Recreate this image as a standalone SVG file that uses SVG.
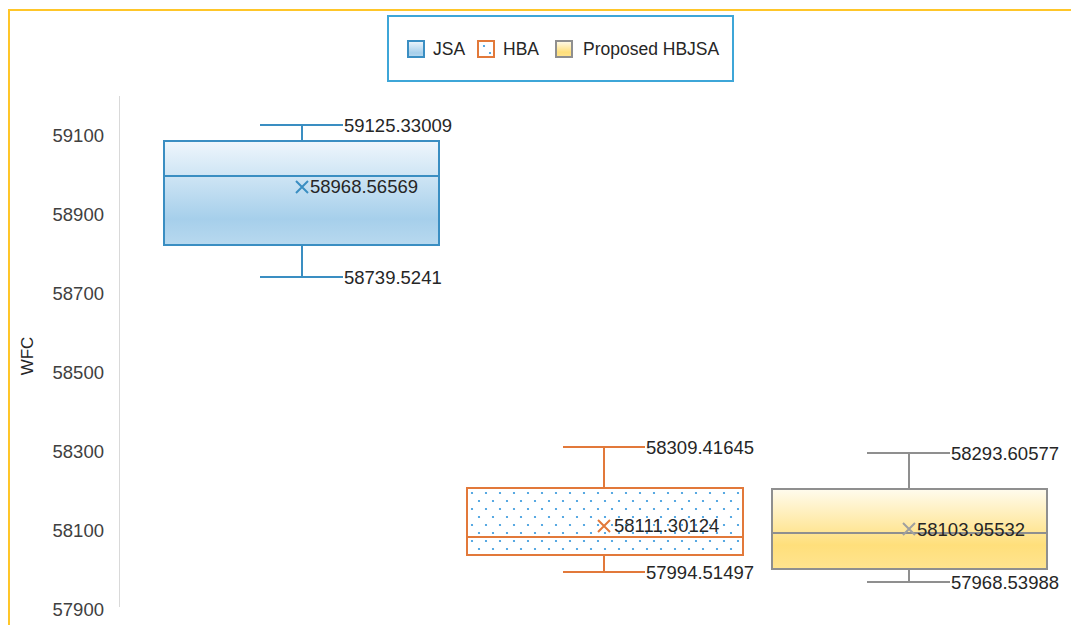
<svg xmlns="http://www.w3.org/2000/svg" width="1071" height="625" viewBox="0 0 1071 625">
<style>
text{font-family:"Liberation Sans",Arial,sans-serif;fill:#262626}
.ax{font-size:18.5px;fill:#404040;text-anchor:end}
.lbl{font-size:18.5px}
.lg{font-size:17.5px}
.jsa{stroke:#3a8ec2;stroke-width:2}
.hba{stroke:#e2793a;stroke-width:2}
.prop{stroke:#8f8f8f;stroke-width:2}
path{fill:none}
</style>
<defs>
<linearGradient id="gBlue" x1="0" y1="0" x2="0" y2="1">
<stop offset="0" stop-color="#eff6fc"/>
<stop offset="0.75" stop-color="#a6cfeb"/>
<stop offset="1" stop-color="#b8d9ef"/>
</linearGradient>
<linearGradient id="gYellow" x1="0" y1="0" x2="0" y2="1">
<stop offset="0" stop-color="#fffbee"/>
<stop offset="0.7" stop-color="#ffdf7b"/>
<stop offset="1" stop-color="#ffe48f"/>
</linearGradient>
<pattern id="dots" width="14" height="16" patternUnits="userSpaceOnUse" x="469" y="490">
<rect width="14" height="16" fill="#ffffff"/>
<circle cx="3" cy="3" r="1.1" fill="#2f95dc"/>
<circle cx="10" cy="11" r="1.1" fill="#2f95dc"/>
</pattern>
</defs>
<rect x="0" y="0" width="1071" height="625" fill="#ffffff"/>
<!-- outer frame -->
<path d="M9,625 V10 H1071" stroke="#ffc629" stroke-width="2"/>

<!-- legend -->
<g id="legend">
<rect x="388" y="16" width="345" height="65" fill="#ffffff" stroke="#3ea6d8" stroke-width="2"/>
<rect x="408" y="41" width="16" height="16" fill="url(#gBlue)" stroke="#3a8ec2" stroke-width="2"/>
<text class="lg" x="433" y="55">JSA</text>
<rect x="478" y="41" width="16" height="16" fill="#ffffff" stroke="#e2793a" stroke-width="2"/>
<circle cx="484" cy="46" r="1.1" fill="#2f95dc"/>
<circle cx="490" cy="53" r="1.1" fill="#2f95dc"/>
<text class="lg" x="503" y="55">HBA</text>
<rect x="556" y="41" width="16" height="16" fill="url(#gYellow)" stroke="#8f8f8f" stroke-width="2"/>
<text class="lg" x="583" y="55">Proposed HBJSA</text>
</g>

<!-- axis -->
<g id="axis">
<line x1="119.5" y1="96" x2="119.5" y2="607" stroke="#d9d9d9" stroke-width="1"/>
<text class="ax" x="104" y="142">59100</text>
<text class="ax" x="104" y="221">58900</text>
<text class="ax" x="104" y="300">58700</text>
<text class="ax" x="104" y="379">58500</text>
<text class="ax" x="104" y="458">58300</text>
<text class="ax" x="104" y="537">58100</text>
<text class="ax" x="104" y="616">57900</text>
<text x="0" y="0" font-size="17" fill="#404040" text-anchor="middle" transform="translate(33,356) rotate(-90)">WFC</text>
</g>

<!-- JSA -->
<g id="jsa">
<rect x="164" y="141" width="275" height="104" fill="url(#gBlue)" class="jsa"/>
<line x1="164" y1="176" x2="439" y2="176" class="jsa"/>
<line x1="302" y1="125" x2="302" y2="141" class="jsa"/>
<line x1="302" y1="245" x2="302" y2="277" class="jsa"/>
<line x1="260" y1="125" x2="343" y2="125" class="jsa"/>
<line x1="260" y1="277" x2="343" y2="277" class="jsa"/>
<path d="M296,181 L308,193 M308,181 L296,193" class="jsa"/>
<text class="lbl" x="344" y="132">59125.33009</text>
<text class="lbl" x="310" y="193">58968.56569</text>
<text class="lbl" x="344" y="284">58739.5241</text>
</g>

<!-- HBA -->
<g id="hba">
<rect x="467" y="488" width="276" height="67" fill="url(#dots)" class="hba"/>
<line x1="467" y1="537" x2="743" y2="537" class="hba"/>
<line x1="604" y1="447" x2="604" y2="488" class="hba"/>
<line x1="604" y1="555" x2="604" y2="572" class="hba"/>
<line x1="563" y1="447" x2="645" y2="447" class="hba"/>
<line x1="563" y1="572" x2="645" y2="572" class="hba"/>
<path d="M598,520 L610,532 M610,520 L598,532" class="hba"/>
<text class="lbl" x="646" y="454">58309.41645</text>
<text class="lbl" x="614" y="532">58111.30124</text>
<text class="lbl" x="646" y="579">57994.51497</text>
</g>

<!-- Proposed HBJSA -->
<g id="proposed">
<rect x="772" y="489" width="275" height="80" fill="url(#gYellow)" class="prop"/>
<line x1="772" y1="533" x2="1047" y2="533" class="prop"/>
<line x1="909" y1="453" x2="909" y2="489" class="prop"/>
<line x1="909" y1="569" x2="909" y2="582" class="prop"/>
<line x1="867" y1="453" x2="950" y2="453" class="prop"/>
<line x1="867" y1="582" x2="950" y2="582" class="prop"/>
<path d="M903,523 L915,535 M915,523 L903,535" stroke="#a0a0a0" stroke-width="2"/>
<text class="lbl" x="951" y="460">58293.60577</text>
<text class="lbl" x="917" y="536">58103.95532</text>
<text class="lbl" x="951" y="589">57968.53988</text>
</g>
</svg>
